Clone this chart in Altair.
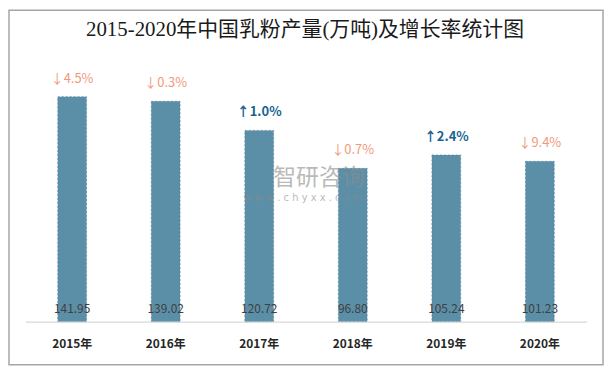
import altair as alt
import pandas as pd

years = ["2015年", "2016年", "2017年", "2018年", "2019年", "2020年"]
output = [141.95, 139.02, 120.72, 96.80, 105.24, 101.23]
growth = [-4.5, -0.3, 1.0, -0.7, 2.4, -9.4]
title_text = "2015-2020年中国乳粉产量(万吨)及增长率统计图"

df = pd.DataFrame({
    "year": years,
    "output": output,
    "growth": growth,
})
df["zero"] = 0.0
df["value_label"] = [f"{v:.2f}" for v in output]
df["growth_label"] = [("↑" if g > 0 else "↓") + f"{abs(g):.1f}%" for g in growth]
df["dir"] = ["up" if g > 0 else "down" for g in growth]

W, H = 598, 357
FONT = "Noto Sans CJK SC"

x = alt.X("year:N", sort=years, axis=None,
          scale=alt.Scale(paddingInner=0, paddingOuter=0.175))
yscale = alt.Scale(domain=[-26.9, 196.4], nice=False)
y = alt.Y("output:Q", scale=yscale, axis=None)
y0 = alt.Y("zero:Q", scale=yscale, axis=None)

base = alt.Chart(df)
single = base.transform_filter(alt.datum.year == "2015年")

wm1 = single.mark_text(
    text="智研咨询", font=FONT, fontSize=23, color="#8c8c8c", opacity=0.6,
    align="center", baseline="middle"
).encode(x=alt.value(312), y=alt.value(169))
wm2 = single.mark_text(
    text="w w w . c h y x x . c o m", font="DejaVu Sans", fontSize=10, color="#8c8c8c",
    opacity=0.6, align="center", baseline="middle"
).encode(x=alt.value(296), y=alt.value(189))

bars = base.mark_bar(size=29, color="#5b8fa7",
                     stroke="#4d7f98", strokeWidth=0.6, strokeDash=[2, 2]).encode(
    x=x, y=y
)

baseline = single.mark_rule(color="#d9d9d9", strokeWidth=1.2).encode(
    x=alt.value(17), x2=alt.value(582), y=y0
)

value_labels = base.mark_text(font=FONT, fontSize=12, color="#404040",
                              baseline="middle", dy=-13).encode(
    x=x, y=y0, text="value_label:N"
)

year_labels = base.mark_text(font=FONT, fontSize=12, fontWeight="bold", color="#262626",
                             baseline="middle", dy=22).encode(
    x=x, y=y0, text="year:N"
)

down_labels = base.transform_filter(alt.datum.dir == "down").mark_text(
    font=FONT, fontSize=13, color="#f2997a", baseline="middle", dy=-18
).encode(x=x, y=y, text="growth_label:N")

up_labels = base.transform_filter(alt.datum.dir == "up").mark_text(
    font=FONT, fontSize=13, fontWeight="bold", color="#1a6391", baseline="middle", dy=-18
).encode(x=x, y=y, text="growth_label:N")

title = single.mark_text(
    text=title_text, font="Liberation Serif, Noto Sans CJK SC", fontSize=21,
    color="#1a1a1a", align="center", baseline="middle"
).encode(x=alt.value(298), y=alt.value(20))

chart = alt.layer(
    bars, wm1, wm2, baseline, value_labels, year_labels, down_labels, up_labels, title
).properties(
    width=W, height=H,
    padding=1,
    background="white",
).configure_view(
    stroke="#a6a6a6", strokeWidth=1.5
)

chart.save("out.html", embed_options={"renderer": "svg", "actions": False})
